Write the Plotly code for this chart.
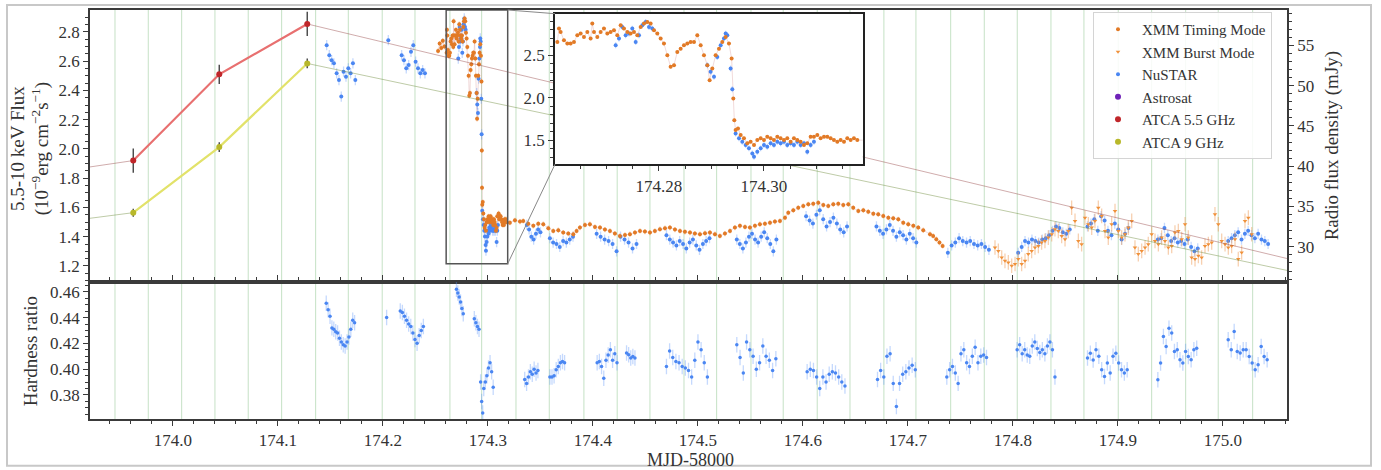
import plotly.graph_objects as go

FONT = "Liberation Serif, Times New Roman, Times, serif"

# ---------------------------------------------------------------- data
# periodic reference markers (MJD-58000)
period_marks = [173.9448, 173.9765, 174.0083, 174.0400, 174.0717, 174.1035, 174.1359,
                174.1670, 174.1993, 174.2305, 174.2638, 174.2940, 174.3267, 174.3584,
                174.3914, 174.4231, 174.4543, 174.4867, 174.5178, 174.5505, 174.5812,
                174.6136, 174.6448, 174.6771, 174.7076, 174.7407, 174.7727, 174.8041,
                174.8362, 174.8676, 174.9003, 174.9321, 174.9645, 174.9955, 175.0283]

# ATCA radio flux densities (mJy); first/last entries are the neighbouring
# observations outside the plotted window (only their connecting lines show)
atca55_t = [173.800, 173.9622, 174.0441, 174.1279, 175.300]
atca55_f = [37.6, 40.70, 51.40, 57.65, 21.1]
atca55_e = [1.5, 1.5, 1.2, 1.5, 1.5]
atca9_t = [173.800, 173.9622, 174.0441, 174.1279, 175.300]
atca9_f = [31.5, 34.24, 42.38, 52.75, 20.5]
atca9_e = [0.5, 0.5, 0.6, 0.6, 0.5]
atca_session = slice(1, 4)

# Astrosat: no points inside this window
astrosat_t = [None]
astrosat_f = [None]

# XMM timing mode 5.5-10 keV flux (1e-9 erg/cm2/s)
xmm_timing = [
    (174.2525, 2.67), (174.2540, 2.72), (174.2555, 2.69), (174.2570, 2.74), (174.2585, 2.70),
    (174.26064, 2.657), (174.26095, 2.814), (174.26127, 2.775), (174.26190, 2.677), (174.26254, 2.637),
    (174.26317, 2.637), (174.26381, 2.657), (174.26444, 2.735), (174.26508, 2.755), (174.26571, 2.716),
    (174.26635, 2.775), (174.26698, 2.696), (174.26730, 2.873), (174.26762, 2.775), (174.26825, 2.716),
    (174.26889, 2.775), (174.26952, 2.814), (174.27016, 2.755), (174.27079, 2.775), (174.27143, 2.794),
    (174.27206, 2.735), (174.27270, 2.853), (174.27333, 2.814), (174.27397, 2.775), (174.27460, 2.755),
    (174.27524, 2.775), (174.27587, 2.735), (174.27651, 2.833), (174.27714, 2.873), (174.27778, 2.892),
    (174.27841, 2.873), (174.27905, 2.794), (174.27968, 2.755), (174.28032, 2.696), (174.28095, 2.637),
    (174.28159, 2.500), (174.28222, 2.363), (174.28286, 2.382), (174.28349, 2.539), (174.28413, 2.578),
    (174.28476, 2.618), (174.28540, 2.637), (174.28603, 2.657), (174.28667, 2.657), (174.28730, 2.735),
    (174.28794, 2.618), (174.28857, 2.500), (174.28921, 2.382), (174.28965, 2.206), (174.29016, 2.343),
    (174.29079, 2.500), (174.29143, 2.578), (174.29206, 2.657), (174.29270, 2.716), (174.29333, 2.637),
    (174.29384, 2.461), (174.29416, 1.990), (174.29435, 1.735), (174.29460, 1.618), (174.29505, 1.637),
    (174.29556, 1.559), (174.29619, 1.520), (174.29683, 1.461), (174.29746, 1.480), (174.29810, 1.441),
    (174.29873, 1.500), (174.29937, 1.520), (174.30000, 1.500), (174.30063, 1.539), (174.30127, 1.520),
    (174.30190, 1.500), (174.30254, 1.539), (174.30317, 1.520), (174.30381, 1.500), (174.30444, 1.520),
    (174.30508, 1.480), (174.30571, 1.520), (174.30635, 1.500), (174.30698, 1.480), (174.30762, 1.441),
    (174.30825, 1.461), (174.30889, 1.539), (174.30952, 1.539), (174.31016, 1.559), (174.31079, 1.520),
    (174.31143, 1.539), (174.31206, 1.539), (174.31270, 1.520), (174.31333, 1.500), (174.31397, 1.480),
    (174.31460, 1.500), (174.31524, 1.480), (174.31587, 1.520), (174.31651, 1.500), (174.31714, 1.520),
    (174.31778, 1.500),
    (174.3209, 1.496), (174.3257, 1.512), (174.3305, 1.503), (174.3336, 1.508), (174.3384, 1.489),
    (174.3432, 1.474), (174.3479, 1.489), (174.3527, 1.485), (174.3575, 1.458), (174.3622, 1.439),
    (174.3670, 1.444), (174.3717, 1.428), (174.3765, 1.421), (174.3813, 1.417), (174.3844, 1.439),
    (174.3876, 1.462), (174.3924, 1.480), (174.3971, 1.485), (174.4019, 1.467), (174.4067, 1.462),
    (174.4114, 1.449), (174.4162, 1.439), (174.4209, 1.421), (174.4257, 1.405), (174.4305, 1.412),
    (174.4352, 1.417), (174.4400, 1.428), (174.4448, 1.439), (174.4495, 1.435), (174.4543, 1.428),
    (174.4590, 1.439), (174.4638, 1.451), (174.4686, 1.458), (174.4733, 1.462), (174.4781, 1.449),
    (174.4829, 1.439), (174.4876, 1.433), (174.4924, 1.428), (174.4971, 1.421), (174.5019, 1.417),
    (174.5067, 1.424), (174.5114, 1.428), (174.5162, 1.417), (174.5209, 1.405), (174.5257, 1.421),
    (174.5305, 1.439), (174.5352, 1.462), (174.5400, 1.474), (174.5448, 1.467), (174.5495, 1.462),
    (174.5543, 1.474), (174.5590, 1.485), (174.5638, 1.489), (174.5686, 1.496), (174.5733, 1.503),
    (174.5781, 1.508), (174.5829, 1.530), (174.5860, 1.564), (174.5908, 1.580), (174.5955, 1.598),
    (174.6003, 1.610), (174.6051, 1.621), (174.6098, 1.625), (174.6146, 1.632), (174.6194, 1.616),
    (174.6241, 1.610), (174.6289, 1.621), (174.6336, 1.625), (174.6384, 1.616), (174.6432, 1.621),
    (174.6479, 1.598), (174.6527, 1.576), (174.6575, 1.580), (174.6622, 1.571), (174.6670, 1.557),
    (174.6717, 1.553), (174.6765, 1.542), (174.6813, 1.530), (174.6860, 1.526), (174.6908, 1.519),
    (174.6955, 1.496), (174.7003, 1.485), (174.7051, 1.474), (174.7098, 1.462), (174.7146, 1.444),
    (174.7210, 1.417), (174.7240, 1.405), (174.7270, 1.383), (174.7300, 1.360), (174.7330, 1.337),
]

# XMM burst mode flux
xmm_burst_t = [174.7829, 174.7861, 174.7893, 174.7924, 174.7956, 174.7988, 174.8020, 174.8051, 174.8083, 174.8115,
               174.8146, 174.8178, 174.8210, 174.8242, 174.8273, 174.8305, 174.8337, 174.8369, 174.8400, 174.8432,
               174.8464, 174.8496, 174.8527, 174.8559, 174.8591, 174.8623, 174.8654, 174.8686, 174.8718, 174.8750,
               174.8781, 174.8813, 174.8845, 174.8877, 174.8908, 174.8940, 174.8972, 174.9004, 174.9035, 174.9067,
               174.9099, 174.9131, 174.9162, 174.9194, 174.9226, 174.9258, 174.9289, 174.9321, 174.9353, 174.9385,
               174.9416, 174.9448, 174.9480, 174.9512, 174.9543, 174.9575, 174.9607, 174.9639, 174.9670, 174.9702,
               174.9734, 174.9766, 174.9797, 174.9829, 174.9861, 174.9893, 174.9924, 174.9956, 174.9988, 175.0020,
               175.0051, 175.0083, 175.0115, 175.0146, 175.0178, 175.0210, 175.0242, 175.0274]
xmm_burst_f = [1.326, 1.303, 1.258, 1.235, 1.224, 1.201, 1.213, 1.247, 1.213, 1.235,
               1.281, 1.303, 1.326, 1.337, 1.360, 1.371, 1.394, 1.417, 1.451, 1.439,
               1.405, 1.383, 1.439, 1.598, 1.508, 1.371, 1.349, 1.530, 1.485, 1.462,
               1.508, 1.598, 1.542, 1.439, 1.394, 1.485, 1.576, 1.439, 1.394, 1.417,
               1.462, 1.508, 1.326, 1.281, 1.303, 1.326, 1.349, 1.417, 1.371, 1.349,
               1.394, 1.371, 1.326, 1.337, 1.428, 1.439, 1.383, 1.485, 1.394, 1.258,
               1.247, 1.269, 1.258, 1.337, 1.349, 1.360, 1.553, 1.485, 1.371, 1.349,
               1.326, 1.337, 1.383, 1.247, 1.292, 1.508, 1.530, 1.417]

# NuSTAR flux
nustar = [
    (174.1464, 2.709), (174.1489, 2.641), (174.1511, 2.607), (174.1533, 2.585), (174.1559, 2.517),
    (174.1581, 2.471), (174.1603, 2.358), (174.1625, 2.528), (174.1648, 2.494), (174.1670, 2.551),
    (174.1692, 2.517), (174.1714, 2.585), (174.1737, 2.471),
    (174.2051, 2.743), (174.2178, 2.641), (174.2200, 2.607), (174.2222, 2.551), (174.2245, 2.573),
    (174.2267, 2.664), (174.2289, 2.709), (174.2311, 2.596), (174.2334, 2.551), (174.2356, 2.517),
    (174.2378, 2.539), (174.2400, 2.517),
    (174.27175, 2.618), (174.27238, 2.696), (174.27302, 2.833), (174.27365, 2.735), (174.27429, 2.755),
    (174.27492, 2.814), (174.27556, 2.657), (174.27619, 2.735), (174.27683, 2.853), (174.27746, 2.892),
    (174.27810, 2.833), (174.27873, 2.814),
    (174.28921, 2.382), (174.28984, 2.304), (174.29048, 2.245), (174.29111, 2.480), (174.29175, 2.618),
    (174.29238, 2.696), (174.29270, 2.755), (174.29302, 2.735), (174.29365, 2.343), (174.29397, 2.100),
    (174.29460, 1.578), (174.29524, 1.520), (174.29587, 1.480), (174.29651, 1.441), (174.29714, 1.402),
    (174.29778, 1.343), (174.29810, 1.304), (174.29873, 1.363), (174.29937, 1.402), (174.30000, 1.441),
    (174.30063, 1.422), (174.30127, 1.461), (174.30190, 1.441), (174.30254, 1.480), (174.30317, 1.461),
    (174.30381, 1.480), (174.30444, 1.441), (174.30508, 1.461), (174.30571, 1.441), (174.30635, 1.480),
    (174.30698, 1.441), (174.30762, 1.461), (174.30825, 1.363), (174.30889, 1.441), (174.30952, 1.480),
    (174.3370, 1.48), (174.3392, 1.45), (174.3413, 1.40), (174.3435, 1.38), (174.3457, 1.42),
    (174.3478, 1.45), (174.3500, 1.43),
    (174.3590, 1.39), (174.3621, 1.36), (174.3653, 1.35), (174.3684, 1.33), (174.3716, 1.37),
    (174.3747, 1.36), (174.3779, 1.38), (174.3810, 1.40),
    (174.4035, 1.42), (174.4073, 1.40), (174.4111, 1.38), (174.4149, 1.37), (174.4187, 1.35),
    (174.4225, 1.30), (174.4263, 1.40), (174.4301, 1.38), (174.4339, 1.36), (174.4377, 1.32),
    (174.4415, 1.35),
    (174.4700, 1.41), (174.4732, 1.38), (174.4763, 1.36), (174.4795, 1.34), (174.4826, 1.37),
    (174.4858, 1.35), (174.4889, 1.32), (174.4921, 1.36), (174.4952, 1.38), (174.4984, 1.34),
    (174.5015, 1.31), (174.5047, 1.35), (174.5078, 1.37), (174.5110, 1.39),
    (174.5370, 1.38), (174.5399, 1.35), (174.5428, 1.32), (174.5457, 1.36), (174.5486, 1.40),
    (174.5515, 1.42), (174.5544, 1.38), (174.5573, 1.36), (174.5602, 1.40), (174.5631, 1.43),
    (174.5660, 1.39), (174.5689, 1.35), (174.5718, 1.30), (174.5747, 1.38),
    (174.6030, 1.54), (174.6063, 1.51), (174.6095, 1.49), (174.6128, 1.55), (174.6160, 1.58),
    (174.6193, 1.52), (174.6225, 1.47), (174.6258, 1.50), (174.6290, 1.53), (174.6323, 1.49),
    (174.6355, 1.45), (174.6388, 1.43), (174.6420, 1.47),
    (174.6700, 1.47), (174.6732, 1.44), (174.6763, 1.42), (174.6795, 1.45), (174.6827, 1.48),
    (174.6858, 1.44), (174.6890, 1.40), (174.6922, 1.43), (174.6954, 1.41), (174.6985, 1.38),
    (174.7017, 1.42), (174.7049, 1.39), (174.7080, 1.36),
    (174.7380, 1.29), (174.7416, 1.34), (174.7451, 1.36), (174.7487, 1.39), (174.7522, 1.37),
    (174.7558, 1.36), (174.7593, 1.37), (174.7629, 1.35), (174.7664, 1.34), (174.7700, 1.35),
    (174.7735, 1.33), (174.7771, 1.31),
    (174.8050, 1.29), (174.8083, 1.33), (174.8115, 1.37), (174.8148, 1.36), (174.8181, 1.38),
    (174.8214, 1.37), (174.8246, 1.36), (174.8279, 1.38), (174.8312, 1.39), (174.8344, 1.41),
    (174.8377, 1.44), (174.8410, 1.47), (174.8442, 1.46), (174.8475, 1.43), (174.8508, 1.42),
    (174.8541, 1.45),
    (174.8710, 1.47), (174.8743, 1.49), (174.8775, 1.52), (174.8808, 1.44), (174.8840, 1.54),
    (174.8873, 1.51), (174.8905, 1.44), (174.8938, 1.41), (174.8970, 1.49), (174.9003, 1.45),
    (174.9035, 1.38), (174.9068, 1.42), (174.9100, 1.46),
    (174.9380, 1.38), (174.9412, 1.39), (174.9443, 1.46), (174.9475, 1.41), (174.9507, 1.37),
    (174.9539, 1.39), (174.9570, 1.36), (174.9602, 1.37), (174.9634, 1.35), (174.9665, 1.38),
    (174.9697, 1.33), (174.9729, 1.30), (174.9760, 1.32),
    (175.0050, 1.37), (175.0082, 1.39), (175.0113, 1.41), (175.0145, 1.43), (175.0177, 1.38),
    (175.0209, 1.42), (175.0240, 1.44), (175.0272, 1.41), (175.0304, 1.39), (175.0335, 1.42),
    (175.0367, 1.38), (175.0399, 1.37), (175.0430, 1.35),
]

# NuSTAR hardness ratio
hardness = [
    (174.1460, 0.451), (174.1478, 0.446), (174.1496, 0.441), (174.1514, 0.432), (174.1532, 0.431),
    (174.1550, 0.429), (174.1568, 0.428), (174.1586, 0.424), (174.1604, 0.421), (174.1622, 0.419),
    (174.1640, 0.418), (174.1658, 0.421), (174.1676, 0.425), (174.1694, 0.431), (174.1712, 0.438),
    (174.1730, 0.436),
    (174.2035, 0.440),
    (174.2165, 0.445), (174.2185, 0.444), (174.2205, 0.441), (174.2225, 0.438), (174.2245, 0.435),
    (174.2265, 0.433), (174.2285, 0.428), (174.2305, 0.423), (174.2325, 0.420), (174.2345, 0.426),
    (174.2365, 0.430), (174.2385, 0.433),
    (174.2700, 0.462), (174.2713, 0.459), (174.2726, 0.456), (174.2739, 0.452), (174.2752, 0.447),
    (174.2765, 0.443),
    (174.2870, 0.439), (174.2885, 0.436), (174.2900, 0.433), (174.2915, 0.431), (174.2930, 0.390),
    (174.2940, 0.375), (174.2950, 0.366), (174.2960, 0.385), (174.2975, 0.390), (174.2990, 0.395),
    (174.3005, 0.401), (174.3020, 0.405), (174.3035, 0.398), (174.3050, 0.386),
    (174.3350, 0.392), (174.3368, 0.389), (174.3386, 0.394), (174.3404, 0.398), (174.3422, 0.396),
    (174.3440, 0.400), (174.3458, 0.397), (174.3476, 0.399),
    (174.3590, 0.394), (174.3610, 0.394), (174.3630, 0.395), (174.3650, 0.3995), (174.3670, 0.402),
    (174.3690, 0.405), (174.3710, 0.406), (174.3730, 0.405),
    (174.4040, 0.405), (174.4061, 0.406), (174.4082, 0.402), (174.4103, 0.393), (174.4124, 0.407),
    (174.4145, 0.411), (174.4166, 0.415), (174.4187, 0.407), (174.4208, 0.412), (174.4229, 0.405),
    (174.4320, 0.4125), (174.4340, 0.4112), (174.4360, 0.4086), (174.4380, 0.4099), (174.4400, 0.4086),
    (174.4700, 0.402), (174.4730, 0.414), (174.4760, 0.409), (174.4790, 0.406), (174.4820, 0.405),
    (174.4850, 0.402), (174.4880, 0.401), (174.4910, 0.399), (174.4940, 0.394), (174.4970, 0.407),
    (174.5000, 0.421), (174.5030, 0.415), (174.5060, 0.405), (174.5090, 0.394),
    (174.5370, 0.419), (174.5401, 0.409), (174.5432, 0.397), (174.5463, 0.421), (174.5494, 0.415),
    (174.5525, 0.410), (174.5556, 0.400), (174.5587, 0.405), (174.5618, 0.418), (174.5649, 0.410),
    (174.5680, 0.407), (174.5711, 0.399), (174.5742, 0.408),
    (174.6040, 0.398), (174.6070, 0.400), (174.6100, 0.399), (174.6130, 0.394), (174.6160, 0.385),
    (174.6190, 0.394), (174.6220, 0.390), (174.6250, 0.396), (174.6280, 0.398), (174.6310, 0.397),
    (174.6340, 0.394), (174.6370, 0.390), (174.6400, 0.387),
    (174.6710, 0.392), (174.6740, 0.399), (174.6770, 0.394), (174.6800, 0.410), (174.6830, 0.412),
    (174.6860, 0.389), (174.6890, 0.371), (174.6920, 0.389), (174.6950, 0.396), (174.6980, 0.398),
    (174.7010, 0.401), (174.7040, 0.403), (174.7070, 0.3995),
    (174.7370, 0.394), (174.7397, 0.3995), (174.7424, 0.402), (174.7451, 0.397), (174.7478, 0.389),
    (174.7505, 0.412), (174.7532, 0.415), (174.7559, 0.405), (174.7586, 0.402), (174.7613, 0.410),
    (174.7640, 0.417), (174.7667, 0.405), (174.7694, 0.410), (174.7721, 0.411), (174.7748, 0.409),
    (174.8040, 0.415), (174.8064, 0.419), (174.8088, 0.412), (174.8112, 0.415), (174.8136, 0.411),
    (174.8160, 0.410), (174.8184, 0.418), (174.8208, 0.421), (174.8232, 0.416), (174.8256, 0.413),
    (174.8280, 0.415), (174.8304, 0.412), (174.8328, 0.418), (174.8352, 0.421), (174.8376, 0.415),
    (174.8400, 0.394),
    (174.8710, 0.4086), (174.8737, 0.4124), (174.8764, 0.4072), (174.8791, 0.4150), (174.8818, 0.4100),
    (174.8845, 0.3995), (174.8872, 0.3943), (174.8899, 0.4047), (174.8926, 0.3970), (174.8953, 0.4100),
    (174.8980, 0.4124), (174.9007, 0.4047), (174.9034, 0.3995), (174.9061, 0.3970), (174.9088, 0.3995),
    (174.9380, 0.3918), (174.9406, 0.4047), (174.9433, 0.4254), (174.9459, 0.4176), (174.9486, 0.4318),
    (174.9512, 0.4280), (174.9538, 0.4137), (174.9565, 0.4150), (174.9591, 0.4073), (174.9618, 0.4047),
    (174.9644, 0.4137), (174.9670, 0.4099), (174.9697, 0.4073), (174.9723, 0.4150), (174.9750, 0.4163),
    (175.0050, 0.4228), (175.0079, 0.4150), (175.0107, 0.4292), (175.0136, 0.4137), (175.0164, 0.4125),
    (175.0193, 0.4150), (175.0221, 0.4150), (175.0250, 0.4099), (175.0278, 0.4047), (175.0307, 0.3995),
    (175.0335, 0.4034), (175.0364, 0.4176), (175.0392, 0.4099), (175.0421, 0.4073),
]

# ---------------------------------------------------------------- layout constants
W, H = 1381, 470
ML, MR, MT, MB = 90, 94, 8, 51
PH = H - MT - MB
SPLIT = 138 / PH

x_range = [173.921, 175.061]
flux_range = [1.0925, 2.9497]
radio_range = [25.68, 59.38]
hr_range = [0.3614, 0.4678]
inset_x_range = [174.2602, 174.3188]
inset_y_range = [1.215, 2.99]
inset_dom_x = [0.3885, 0.6455]
inset_dom_y = [0.6229, 0.9910]

ORANGE = "#e27a26"
ORANGE_ERR = "rgba(238,150,80,0.45)"
BURST = "#f0913a"
BLUE = "#4a86f2"
BLUE_ERR = "rgba(90,145,250,0.35)"
AXC = "#3a3a3a"


def unzip(pairs):
    return [p[0] for p in pairs], [p[1] for p in pairs]


tm_t, tm_f = unzip(xmm_timing)
ns_t, ns_f = unzip(nustar)
hr_t, hr_v = unzip(hardness)

fig = go.Figure()


def add_xray(xa, ya, legend):
    fig.add_trace(go.Scatter(x=tm_t, y=tm_f, mode="lines", xaxis=xa, yaxis=ya,
                             line=dict(color="rgba(205,120,120,0.35)", width=0.8),
                             showlegend=False, hoverinfo="skip"))
    fig.add_trace(go.Scatter(x=ns_t, y=ns_f, mode="markers", xaxis=xa, yaxis=ya,
                             name="NuSTAR", legendgroup="nustar", legendrank=3,
                             showlegend=legend,
                             marker=dict(size=4, color=BLUE),
                             error_y=dict(type="constant", value=0.035, color=BLUE_ERR,
                                          thickness=1.3, width=0)))
    fig.add_trace(go.Scatter(x=tm_t, y=tm_f, mode="markers", xaxis=xa, yaxis=ya,
                             name="XMM Timing Mode", legendgroup="tm", legendrank=1,
                             showlegend=legend,
                             marker=dict(size=4, color=ORANGE),
                             error_y=dict(type="constant", value=0.018, color=ORANGE_ERR,
                                          thickness=1.3, width=0)))


add_xray("x", "y", True)
fig.add_trace(go.Scatter(x=xmm_burst_t, y=xmm_burst_f, mode="markers", xaxis="x", yaxis="y",
                         name="XMM Burst Mode", legendgroup="bm", legendrank=2,
                         marker=dict(size=4, color=BURST, symbol="triangle-down"),
                         error_y=dict(type="constant", value=0.05, color=ORANGE_ERR,
                                      thickness=1.3, width=0)))
fig.add_trace(go.Scatter(x=astrosat_t, y=astrosat_f, mode="markers", xaxis="x", yaxis="y",
                         name="Astrosat", legendgroup="astro", legendrank=4, showlegend=True,
                         marker=dict(size=6, color="#6f22b8")))

# radio (right axis)
for t, f, e, thin, thick, mk, nm, rk in [
        (atca55_t, atca55_f, atca55_e, "rgba(150,70,70,0.45)", "#e87070", "#c0262a", "ATCA 5.5 GHz", 5),
        (atca9_t, atca9_f, atca9_e, "rgba(110,140,60,0.45)", "#e2e26a", "#b8b82a", "ATCA 9 GHz", 6)]:
    fig.add_trace(go.Scatter(x=t, y=f, mode="lines", xaxis="x", yaxis="y3",
                             line=dict(color=thin, width=1), showlegend=False, hoverinfo="skip"))
    fig.add_trace(go.Scatter(x=t[atca_session], y=f[atca_session], mode="lines", xaxis="x", yaxis="y3",
                             line=dict(color=thick, width=2.2), showlegend=False, hoverinfo="skip"))
    fig.add_trace(go.Scatter(x=t, y=f, mode="markers", xaxis="x", yaxis="y3",
                             name=nm, legendgroup=nm, legendrank=rk,
                             marker=dict(size=6, color=mk),
                             error_y=dict(type="data", array=e, color="#444", thickness=1.4, width=0)))

# hardness ratio (bottom panel)
fig.add_trace(go.Scatter(x=hr_t, y=hr_v, mode="markers", xaxis="x2", yaxis="y2",
                         showlegend=False,
                         marker=dict(size=3.5, color=BLUE),
                         error_y=dict(type="constant", value=0.006, color=BLUE_ERR,
                                      thickness=1.3, width=0)))

# inset
add_xray("x3", "y4", False)

# ---------------------------------------------------------------- shapes
shapes = []
for m in period_marks:
    shapes.append(dict(type="line", xref="x", yref="paper", x0=m, x1=m, y0=0, y1=1,
                       layer="below", line=dict(color="rgba(150,200,150,0.55)", width=1)))


def paper_x(t):
    return (t - x_range[0]) / (x_range[1] - x_range[0])


def paper_y(f):
    return SPLIT + (f - flux_range[0]) / (flux_range[1] - flux_range[0]) * (1 - SPLIT)


box_y1 = min(inset_y_range[1], flux_range[1])
shapes.append(dict(type="rect", xref="x", yref="y", x0=inset_x_range[0], x1=inset_x_range[1],
                   y0=inset_y_range[0], y1=box_y1, layer="above",
                   line=dict(color="#555", width=1.5)))
shapes.append(dict(type="line", xref="paper", yref="paper",
                   x0=paper_x(inset_x_range[1]), y0=paper_y(inset_y_range[0]),
                   x1=inset_dom_x[0], y1=inset_dom_y[0], line=dict(color="#888", width=1)))
shapes.append(dict(type="line", xref="paper", yref="paper",
                   x0=paper_x(inset_x_range[1]), y0=paper_y(box_y1),
                   x1=inset_dom_x[0], y1=inset_dom_y[1], line=dict(color="#888", width=1)))
# outer figure frame
shapes.append(dict(type="rect", xref="paper", yref="paper",
                   x0=(7 - ML) / 1197, x1=(1371 - ML) / 1197,
                   y0=(419 - 466) / PH, y1=(419 - 3) / PH,
                   line=dict(color="#c8c8c8", width=2)))

tickfont = dict(family=FONT, size=17, color="#333")
common = dict(showgrid=False, zeroline=False, showline=True, linecolor=AXC, linewidth=1.5,
              tickcolor=AXC, ticklen=5, tickwidth=1.2, tickfont=tickfont)


def minor(dt, t0):
    return dict(ticks="outside", ticklen=3, tickcolor=AXC, dtick=dt, tick0=t0)


fig.update_layout(
    width=W, height=H,
    margin=dict(l=ML, r=MR, t=MT, b=MB),
    paper_bgcolor="white", plot_bgcolor="white",
    showlegend=True,
    legend=dict(x=(1093 - ML) / 1197, y=(419 - 10) / PH, xanchor="left", yanchor="top",
                bgcolor="rgba(255,255,255,0.85)", bordercolor="#d4d4d4", borderwidth=1,
                font=dict(family=FONT, size=15, color="#333"), tracegroupgap=0,
                itemsizing="trace", itemwidth=38),
    xaxis=dict(domain=[0, 1], anchor="y", range=x_range, matches="x2",
               showticklabels=False, ticks="", mirror=True, **common),
    yaxis=dict(domain=[SPLIT, 1], anchor="x", range=flux_range, dtick=0.2, tick0=1.2,
               tickformat=".1f", ticks="outside", minor=minor(0.05, 1.2), **common),
    yaxis3=dict(overlaying="y", side="right", anchor="x", range=radio_range, dtick=5, tick0=30,
                ticks="outside", minor=minor(1, 30), **common),
    xaxis2=dict(domain=[0, 1], anchor="y2", range=x_range, dtick=0.1, tick0=174.0,
                tickformat=".1f", ticks="outside", mirror="allticks", minor=minor(0.02, 174.0),
                **common),
    yaxis2=dict(domain=[0, SPLIT], anchor="x2", range=hr_range, dtick=0.02, tick0=0.38,
                tickformat=".2f", ticks="outside", mirror=True, minor=minor(0.005, 0.38), **common),
    xaxis3=dict(domain=inset_dom_x, anchor="y4", range=inset_x_range,
                tickvals=[174.28, 174.30], ticktext=["174.28", "174.30"], ticks="outside",
                mirror=True, minor=minor(0.005, 174.28),
                **{**common, "linecolor": "#222", "linewidth": 2}),
    yaxis4=dict(domain=inset_dom_y, anchor="x3", range=inset_y_range, dtick=0.5, tick0=1.5,
                tickformat=".1f", ticks="outside", mirror=True, minor=minor(0.1, 1.5),
                **{**common, "linecolor": "#222", "linewidth": 2}),
    shapes=shapes,
)

title_font = dict(family=FONT, size=19, color="#333")
fig.add_annotation(text="5.5-10 keV Flux<br>(10<sup>−9</sup>erg cm<sup>−2</sup>s<sup>−1</sup>)",
                   xref="paper", yref="paper", x=(30 - ML) / 1197, y=(419 - 148) / PH,
                   xanchor="center", yanchor="middle", textangle=-90, showarrow=False,
                   font=title_font)
fig.add_annotation(text="Radio flux density (mJy)", xref="paper", yref="paper",
                   x=(1332 - ML) / 1197, y=(419 - 145) / PH, xanchor="center", yanchor="middle",
                   textangle=-90, showarrow=False, font=title_font)
fig.add_annotation(text="Hardness ratio", xref="paper", yref="paper",
                   x=(30 - ML) / 1197, y=(419 - 351) / PH, xanchor="center", yanchor="middle",
                   textangle=-90, showarrow=False, font=title_font)
fig.add_annotation(text="MJD-58000", xref="paper", yref="paper",
                   x=(690 - ML) / 1197, y=(419 - 460) / PH, xanchor="center", yanchor="middle",
                   showarrow=False, font=dict(family=FONT, size=18, color="#333"))

fig.write_html("out.html")
